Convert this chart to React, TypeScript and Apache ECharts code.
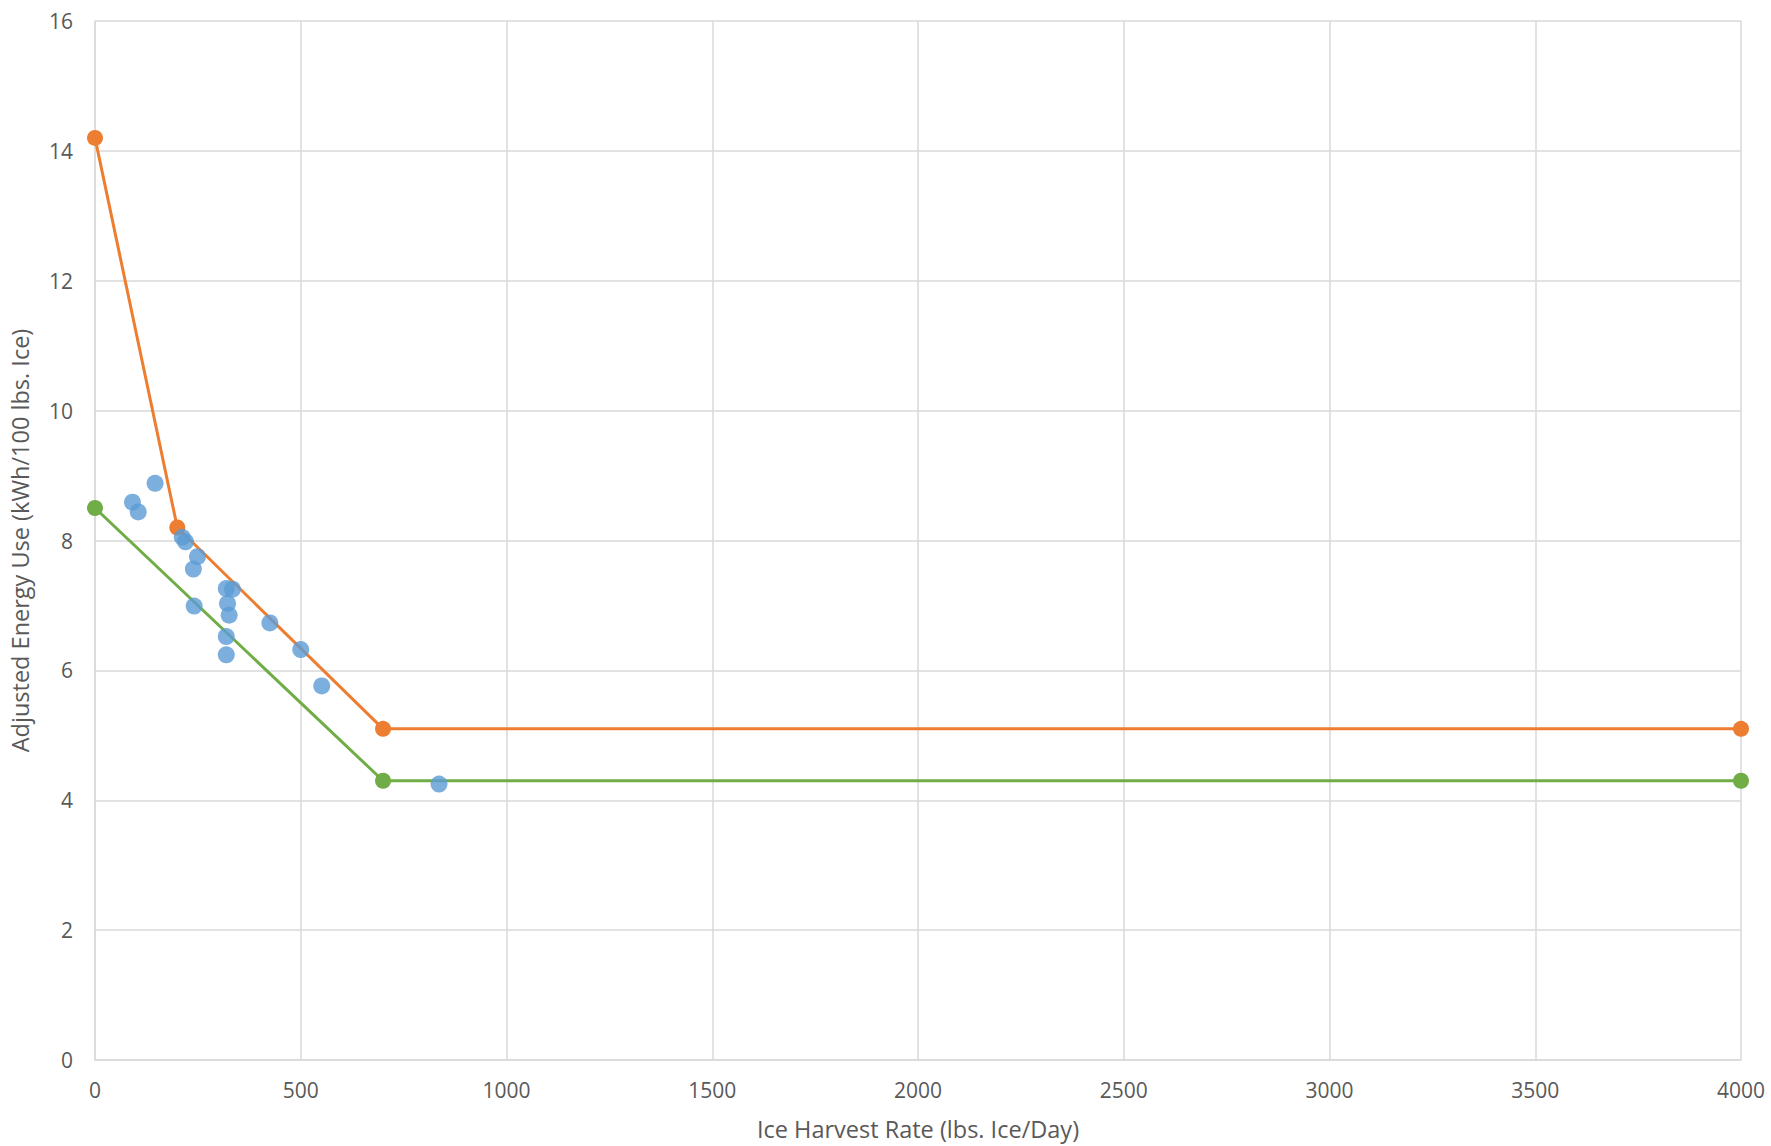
import React, { useEffect, useRef } from "react";
import * as echarts from "echarts";

const measuredX = [91, 105, 146, 212, 220, 249, 239, 241, 319, 334, 322, 326, 319, 319, 425, 500, 551, 836];
const measuredY = [8.59, 8.44, 8.88, 8.05, 7.98, 7.75, 7.56, 6.99, 7.26, 7.25, 7.03, 6.85, 6.52, 6.24, 6.73, 6.32, 5.76, 4.25];

const upperX = [0, 200, 700, 4000];
const upperY = [14.2, 8.2, 5.1, 5.1];

const lowerX = [0, 700, 4000];
const lowerY = [8.5, 4.3, 4.3];

const xTitle = "Ice Harvest Rate (lbs. Ice/Day)";
const yTitle = "Adjusted Energy Use (kWh/100 lbs. Ice)";

const FONT = "Open Sans";
const TEXT = "#595959";
const GRID = "#D9D9D9";

export default function App() {
  const ref = useRef<HTMLDivElement>(null);
  useEffect(() => {
    if (!ref.current) return;
    const chart = echarts.init(ref.current, undefined, { renderer: "svg" });
    const zip = (xs: number[], ys: number[]) => xs.map((x, i) => [x, ys[i]]);
    chart.setOption({
      animation: false,
      backgroundColor: "#ffffff",
      textStyle: { fontFamily: FONT, color: TEXT },
      grid: { left: 93, right: 30, top: 21, bottom: 76, containLabel: false },
      xAxis: {
        type: "value",
        min: 0,
        max: 4000,
        interval: 500,
        name: xTitle,
        nameLocation: "middle",
        nameGap: 57,
        nameTextStyle: { fontFamily: FONT, fontSize: 23.5, color: TEXT },
        axisLine: { show: true, lineStyle: { color: GRID, width: 1.5 } },
        axisTick: { show: false },
        axisLabel: {
          fontFamily: FONT,
          fontSize: 21,
          color: TEXT,
          margin: 19,
          formatter: (v: number) => String(v),
        },
        splitLine: { show: true, lineStyle: { color: GRID, width: 1.5 } },
      },
      yAxis: {
        type: "value",
        min: 0,
        max: 16,
        interval: 2,
        name: yTitle,
        nameLocation: "middle",
        nameGap: 63,
        nameTextStyle: { fontFamily: FONT, fontSize: 23.5, color: TEXT },
        axisLine: { show: true, lineStyle: { color: GRID, width: 1.5 } },
        axisTick: { show: false },
        axisLabel: {
          fontFamily: FONT,
          fontSize: 21,
          color: TEXT,
          margin: 22,
          formatter: (v: number) => String(v),
        },
        splitLine: { show: true, lineStyle: { color: GRID, width: 1.5 } },
      },
      series: [
        {
          name: "Upper",
          type: "line",
          data: zip(upperX, upperY),
          symbol: "circle",
          symbolSize: 16,
          itemStyle: { color: "#ED7D31" },
          lineStyle: { color: "#ED7D31", width: 3 },
          z: 2,
        },
        {
          name: "Lower",
          type: "line",
          data: zip(lowerX, lowerY),
          symbol: "circle",
          symbolSize: 16,
          itemStyle: { color: "#70AD47" },
          lineStyle: { color: "#70AD47", width: 3 },
          z: 2,
        },
        {
          name: "Measured",
          type: "scatter",
          data: zip(measuredX, measuredY),
          symbol: "circle",
          symbolSize: 17,
          itemStyle: { color: "#5B9BD5" },
          z: 3,
        },
      ],
    });
    return () => chart.dispose();
  }, []);
  return (
    <div
      ref={ref}
      style={{ position: "absolute", left: 0, top: 0, width: 1771, height: 1146 }}
    />
  );
}
